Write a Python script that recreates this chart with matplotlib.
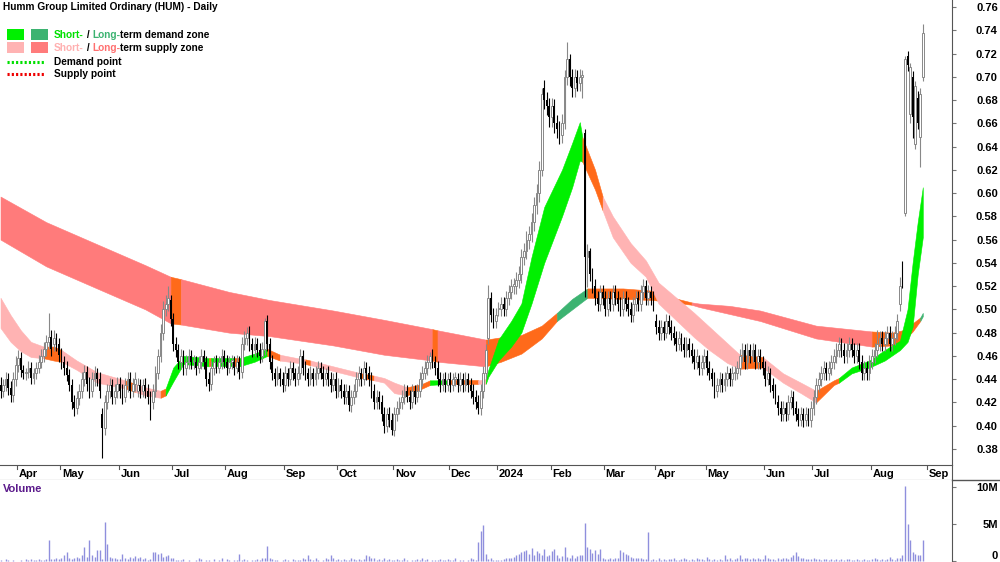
import matplotlib
matplotlib.use('Agg')
import matplotlib.pyplot as plt
from matplotlib.patches import Rectangle
from matplotlib.lines import Line2D
import numpy as np
import pandas as pd

plt.rcParams['font.family'] = ['Liberation Sans', 'DejaVu Sans']

title = "Humm Group Limited Ordinary (HUM) - Daily"
first_day = '2023-03-23'
# ASX closed on these days
holidays = ['2023-04-07', '2023-04-10', '2023-04-25', '2023-06-12', '2023-12-25',
            '2023-12-26', '2024-01-01', '2024-01-26', '2024-03-29', '2024-04-01',
            '2024-04-25', '2024-06-10']

# daily prices in thousandths of a dollar
opens = [
    435, 430, 435, 440, 432, 426, 440, 452, 458, 448,
    445, 446, 450, 441, 445, 450, 455, 460,
    466, 472, 476, 470, 475, 470, 461, 455, 450,
    444, 435, 420, 415, 424, 430, 440, 446, 436, 430,
    440, 445, 440, 410, 398, 420, 430, 435, 425, 430,
    436, 430, 425, 435, 440, 430, 436, 430, 435,
    430, 435, 430, 425, 420, 430, 445, 460, 480, 500,
    505, 508, 492, 470, 465, 455, 460, 450, 455, 460,
    455, 455, 450, 455, 460, 455, 440, 436, 450, 455,
    450, 455, 460, 455, 450, 455, 455, 450, 455, 446,
    470, 475, 480, 470, 465, 470, 465, 460, 466, 490,
    470, 455, 445, 440, 445, 440, 435, 445, 440, 450,
    445, 440, 445, 460, 450, 445, 440, 445, 440, 445,
    450, 445, 440, 445, 440, 435, 440, 430, 435, 430,
    425, 430, 418, 425, 430, 440, 445, 440, 450, 445,
    440, 430, 420, 425, 420, 410, 400, 410, 405, 396,
    410, 415, 420, 425, 430, 425, 420, 430, 425, 430,
    440, 445, 450, 455, 460, 455, 450, 440, 435, 440,
    435, 440, 435, 440, 440, 435, 440, 435, 440, 435,
    430, 425, 420, 415, 430, 445, 475, 510,
    495, 490, 500, 500, 505, 500, 510, 515, 520,
    520, 525, 530, 545, 550, 560, 565, 575, 590, 600,
    620, 690, 680, 675, 665, 675, 660, 655, 650,
    660, 700, 715, 700, 690, 700, 695, 700, 652, 545,
    550, 530, 520, 510, 505, 515, 510, 500, 510, 505,
    515, 510, 505, 500, 510, 505, 500, 495, 505, 510,
    505, 515, 520, 510, 515, 510, 490, 485,
    480, 485, 480, 490, 485, 480, 475, 470, 475, 470,
    465, 470, 465, 460, 455, 455, 450, 455, 460,
    450, 445, 440, 430, 435, 440, 435, 440, 445, 440,
    445, 445, 450, 460, 465, 455, 465, 460, 465, 455,
    460, 455, 450, 440, 445, 435, 430, 420, 415,
    410, 415, 410, 420, 425, 415, 410, 405, 410, 405,
    410, 405, 415, 425, 435, 440, 445, 450, 445, 450,
    455, 460, 465, 470, 465, 460, 465, 470, 465, 460,
    465, 455, 445, 450, 445, 455, 460, 465, 470, 475,
    470, 475, 480, 470, 475, 480, 505, 535, 583, 718,
    668, 700, 642, 682, 648, 700]
highs = [
    442, 440, 446, 445, 438, 446, 460, 465, 463, 452,
    450, 456, 455, 450, 455, 461, 466, 472,
    478, 497, 482, 482, 480, 475, 467, 460, 456,
    449, 440, 426, 430, 436, 446, 452, 451, 442, 446,
    451, 450, 446, 415, 426, 436, 441, 440, 436, 442,
    442, 436, 441, 446, 446, 441, 446, 441, 440,
    440, 441, 436, 430, 436, 451, 466, 487, 507, 512,
    520, 512, 497, 476, 470, 466, 465, 461, 466, 465,
    461, 460, 460, 466, 465, 460, 446, 456, 460, 461,
    460, 466, 465, 461, 460, 461, 460, 461, 460, 476,
    481, 485, 486, 475, 476, 475, 471, 472, 493, 495,
    475, 461, 450, 451, 450, 446, 451, 450, 456, 455,
    450, 451, 466, 465, 456, 450, 451, 450, 451, 456,
    455, 451, 450, 451, 446, 445, 446, 441, 440, 436,
    436, 435, 431, 436, 446, 451, 450, 456, 455, 451,
    446, 436, 431, 430, 426, 416, 415, 416, 411, 416,
    421, 425, 431, 436, 435, 431, 436, 435, 436, 446,
    451, 456, 461, 463, 466, 460, 456, 446, 445, 446,
    445, 446, 445, 446, 445, 446, 445, 446, 445, 441,
    436, 431, 426, 436, 451, 470, 521, 515,
    501, 501, 506, 511, 511, 516, 521, 526, 527,
    532, 537, 552, 557, 567, 572, 583, 597, 608, 628,
    690, 697, 687, 682, 682, 681, 667, 662, 668,
    706, 730, 720, 707, 707, 706, 707, 706, 655, 556,
    553, 536, 526, 516, 521, 521, 516, 516, 516, 521,
    521, 516, 511, 516, 516, 511, 506, 511, 516, 516,
    521, 526, 525, 521, 520, 516, 496, 491,
    491, 490, 496, 495, 491, 486, 481, 481, 480, 476,
    476, 475, 471, 466, 466, 461, 461, 466, 465,
    456, 450, 446, 441, 446, 445, 446, 451, 450, 451,
    451, 456, 466, 471, 470, 471, 470, 471, 470, 466,
    466, 460, 456, 451, 450, 441, 436, 426, 421,
    421, 420, 426, 431, 430, 421, 415, 416, 415, 416,
    415, 421, 431, 441, 446, 451, 456, 455, 456, 461,
    466, 471, 476, 475, 471, 471, 476, 475, 471, 471,
    471, 461, 456, 456, 461, 466, 471, 482, 481, 481,
    481, 486, 486, 481, 486, 496, 528, 542, 718, 722,
    712, 705, 696, 688, 690, 745]
lows = [
    424, 425, 430, 426, 420, 420, 434, 446, 442, 440,
    439, 441, 436, 436, 440, 445, 450, 455,
    460, 466, 460, 464, 464, 455, 449, 444, 438,
    430, 414, 408, 410, 418, 424, 434, 430, 424, 425,
    434, 434, 424, 372, 392, 414, 424, 419, 419, 424,
    424, 419, 420, 429, 424, 425, 430, 425, 424,
    425, 424, 419, 405, 414, 425, 440, 455, 474, 494,
    499, 486, 464, 459, 449, 449, 444, 444, 449, 449,
    449, 444, 445, 449, 449, 434, 430, 431, 444, 445,
    445, 449, 450, 444, 445, 449, 444, 445, 440, 441,
    465, 469, 464, 459, 460, 459, 454, 455, 461, 464,
    449, 439, 434, 435, 434, 429, 430, 434, 435, 439,
    434, 435, 440, 444, 439, 434, 435, 434, 435, 440,
    440, 434, 435, 434, 429, 430, 424, 425, 424, 419,
    419, 413, 412, 419, 425, 434, 434, 435, 439, 434,
    424, 414, 414, 414, 404, 394, 395, 399, 392, 391,
    404, 410, 414, 419, 420, 414, 415, 419, 420, 425,
    434, 440, 444, 449, 450, 444, 434, 429, 430, 429,
    430, 429, 430, 434, 429, 430, 429, 430, 429, 424,
    419, 414, 410, 409, 424, 440, 470, 489,
    484, 484, 494, 494, 494, 494, 504, 509, 513,
    513, 518, 523, 538, 543, 552, 558, 567, 582, 592,
    615, 672, 667, 657, 657, 652, 647, 642, 643,
    655, 693, 692, 683, 683, 688, 688, 682, 511, 519,
    524, 514, 504, 499, 499, 504, 494, 494, 499, 499,
    504, 499, 494, 494, 499, 494, 489, 489, 499, 499,
    499, 509, 504, 504, 504, 499, 479, 474,
    474, 474, 475, 479, 474, 469, 464, 465, 464, 459,
    459, 459, 454, 449, 449, 444, 444, 449, 444,
    439, 434, 424, 425, 429, 429, 430, 434, 434, 434,
    439, 440, 444, 455, 449, 449, 454, 455, 449, 449,
    449, 444, 434, 435, 429, 424, 419, 409, 404,
    404, 404, 405, 414, 409, 404, 400, 400, 399, 400,
    400, 399, 409, 419, 429, 434, 439, 439, 439, 444,
    449, 454, 459, 459, 454, 454, 459, 459, 454, 454,
    449, 439, 439, 439, 439, 449, 454, 459, 464, 464,
    464, 469, 464, 464, 469, 474, 499, 518, 580, 705,
    660, 647, 638, 655, 622, 696]
closes = [
    430, 435, 440, 432, 426, 440, 452, 458, 448, 445,
    445, 450, 441, 445, 450, 455, 460, 466,
    472, 476, 466, 475, 470, 461, 455, 450, 444,
    435, 420, 415, 424, 430, 440, 446, 436, 430, 440,
    445, 440, 430, 398, 420, 430, 435, 425, 430, 436,
    430, 425, 435, 440, 430, 436, 440, 435, 430,
    435, 430, 425, 420, 430, 445, 460, 480, 500, 505,
    510, 492, 470, 465, 455, 460, 450, 455, 460, 455,
    455, 450, 455, 460, 455, 440, 436, 450, 455, 450,
    455, 460, 455, 450, 455, 455, 450, 455, 446, 470,
    475, 480, 470, 465, 470, 465, 460, 466, 490, 470,
    455, 445, 440, 445, 440, 435, 445, 440, 450, 445,
    440, 445, 460, 450, 445, 440, 445, 440, 445, 450,
    445, 440, 445, 440, 435, 440, 430, 435, 430, 425,
    430, 418, 425, 430, 440, 445, 440, 450, 445, 440,
    430, 420, 425, 420, 410, 400, 410, 405, 396, 410,
    415, 420, 425, 430, 425, 420, 430, 425, 430, 440,
    445, 450, 455, 460, 455, 450, 440, 435, 440, 435,
    440, 435, 440, 440, 435, 440, 435, 440, 435, 430,
    425, 420, 415, 430, 445, 465, 510, 495,
    490, 495, 500, 505, 500, 510, 515, 520, 520,
    525, 530, 545, 550, 560, 565, 575, 590, 600, 620,
    685, 680, 675, 665, 675, 660, 655, 650, 660,
    700, 715, 700, 690, 700, 695, 700, 700, 545, 550,
    530, 520, 510, 505, 515, 510, 500, 510, 505, 515,
    510, 505, 500, 510, 505, 500, 495, 505, 510, 505,
    515, 520, 510, 515, 510, 505, 485, 480,
    485, 480, 490, 485, 480, 475, 470, 475, 470, 465,
    470, 465, 460, 455, 460, 450, 455, 460, 450,
    445, 440, 430, 435, 440, 435, 440, 445, 440, 445,
    445, 450, 460, 465, 455, 465, 460, 465, 455, 460,
    455, 450, 440, 445, 435, 430, 425, 415, 410,
    415, 410, 420, 425, 415, 410, 405, 410, 405, 410,
    405, 415, 425, 435, 440, 445, 450, 445, 450, 455,
    460, 465, 470, 465, 460, 465, 470, 465, 460, 465,
    455, 445, 450, 445, 455, 460, 465, 470, 475, 470,
    475, 480, 470, 475, 480, 490, 520, 525, 715, 710,
    708, 665, 692, 660, 685, 738]

# volume in units of 100k shares
volume = [
    2, 1, 3, 2, 1, 2, 1, 1, 2, 1, 3, 2, 3, 2, 2, 3, 2, 2,
    3, 28, 3, 3, 4, 3, 5, 8, 12, 4, 3, 5, 6, 4, 9, 19, 6, 29, 8,
    6, 15, 15, 3, 53, 23, 6, 4, 5, 3, 3, 10, 4, 3, 6, 5, 7, 5, 6,
    3, 4, 2, 3, 13, 12, 10, 11, 6, 7,
    9, 5, 4, 2, 2, 2, 3, 1, 2, 1,
    1, 2, 4, 3, 1, 2, 2, 1, 3, 1, 2, 4, 1, 3, 2, 1, 2, 2, 10, 2,
    3, 2, 1, 2, 2, 3, 2, 4, 5, 21, 4, 3, 2, 2, 1, 2, 3, 2, 1, 3,
    2, 2, 2, 4, 3, 8, 3, 2, 4, 2, 1, 2, 5, 3, 9, 4, 2, 3, 2, 3,
    2, 2, 4, 3, 2, 3, 2, 3, 9, 7, 5, 4, 2, 3, 2, 4, 2, 3, 2, 2,
    3, 2, 2, 4, 2, 1, 2, 2, 3, 2, 4, 2, 3, 1, 2, 2, 2, 3, 2, 2,
    3, 2, 2, 4, 1, 2, 2, 1, 2, 4, 3, 2, 26, 41, 49, 10, 3, 4,
    2, 2, 2, 2, 3, 4, 5, 4, 6, 8, 10, 12, 14, 15, 10, 18, 8, 14, 11,
    9, 16, 7, 9, 14, 17, 9, 5, 7, 19, 6, 4, 9, 5, 7, 9, 8, 51, 19,
    16, 11, 15, 10, 16, 4, 3, 3, 4, 3, 4, 5, 15, 12, 10, 8, 6, 4, 5, 5,
    4, 3, 3, 40, 2, 3, 2, 4, 2, 3, 2, 3, 3, 4, 2, 2, 3, 4,
    3, 2, 3, 2, 4, 3, 3, 2, 6, 3, 2, 3, 2, 3, 2, 8, 3, 4, 2,
    3, 4, 9, 3, 5, 4, 3, 4, 3, 4, 3, 3, 8, 4, 3, 3, 2, 4, 3,
    4, 5, 3, 6, 8, 12, 7, 5, 4, 3, 3, 3, 4, 3, 3, 2, 3, 3, 2, 3,
    2, 3, 2, 3, 2, 3, 3, 2, 2, 3, 2, 2, 3, 2, 2, 3, 4, 3, 2, 3,
    2, 3, 6, 3, 2, 4, 5, 8, 101, 50, 28, 12, 10, 8, 8, 29]

# short-term zone: knot (trading day), upper edge, lower edge, kind of each stretch
# (S supply, D demand, O orange / contested)
st_day = [0, 4, 8, 12, 17, 21, 24, 30, 38, 49, 53, 57, 63, 65, 68, 72, 82, 83,
          92, 94, 100, 105, 110, 117, 120, 122, 131, 142, 147, 151, 155, 160,
          166, 169, 176, 188, 191, 192, 196, 201, 205, 209, 214, 221, 225, 228,
          229, 234, 237, 241, 248, 254, 259, 273, 279, 286, 291, 300, 308, 315,
          321, 328, 330, 335, 342, 348, 354, 357, 359, 361, 363]
st_top = [.510, .495, .482, .472, .468, .468, .465, .456, .446, .439, .436, .433,
          .430, .432, .450, .460, .458, .458, .458, .458, .462, .466, .461, .458,
          .457, .456, .451, .445, .443, .441, .437, .433, .436, .439, .439, .439,
          .440, .448, .474, .490, .505, .545, .588, .620, .643, .661, .648, .620,
          .597, .580, .557, .542, .523, .497, .485, .471, .461, .459, .445, .437,
          .430, .439, .441, .450, .456, .465, .473, .500, .540, .575, .605]
st_bot = [.484, .472, .464, .459, .458, .456, .455, .448, .437, .432, .429, .426,
          .424, .426, .438, .453, .451, .451, .451, .451, .455, .460, .456, .454,
          .453, .452, .447, .441, .439, .437, .428, .426, .432, .435, .436, .436,
          .436, .442, .456, .468, .480, .505, .540, .580, .605, .628, .627, .603,
          .585, .562, .540, .528, .505, .476, .465, .454, .449, .450, .437, .428,
          .420, .435, .437, .445, .450, .456, .465, .472, .485, .530, .562]
st_kind = "SSSSOOSSSOSSODDDODODDOSSOSSOSSSOODOSDDDDDDDDDDOOSSSSSSSSOSSSOODDDDDDDD"

# long-term zone
lt_day = [0, 18, 38, 57, 67, 71, 90, 106, 131, 151, 170, 172, 191, 197, 205,
          213, 219, 225, 231, 245, 257, 261, 272, 275, 287, 299, 321, 343, 351,
          355, 359, 362, 363]
lt_top = [.597, .575, .556, .538, .528, .526, .515, .508, .499, .491, .483, .482,
          .474, .476, .478, .486, .497, .509, .518, .518, .516, .512, .506, .505,
          .503, .499, .486, .481, .480, .482, .488, .493, .497]
lt_bot = [.560, .537, .518, .500, .488, .487, .480, .477, .469, .461, .456, .455,
          .451, .455, .462, .475, .490, .500, .510, .509, .508, .507, .504, .502,
          .496, .490, .475, .468, .469, .472, .481, .490, .494]
lt_kind = "SSSSOSSSSSOSOOOODDOOOOSSSSSOOOOD"

short_cols = {'S': '#ffb3b3', 'D': '#00f000', 'O': '#ff6a1a'}
long_cols = {'S': '#ff7b7b', 'D': '#3cb371', 'O': '#ff6a1a'}

o = np.array(opens) / 1000
h = np.array(highs) / 1000
l = np.array(lows) / 1000
c = np.array(closes) / 1000
vol = np.array(volume) * 1e5
n = len(c)
x = np.arange(n)

fig = plt.figure(figsize=(10, 5.62), dpi=100)
ax = fig.add_axes([0, 97 / 562, 0.952, 465 / 562])
axd = fig.add_axes([0, 82 / 562, 0.952, 15 / 562], sharex=ax)
axv = fig.add_axes([0, 0, 0.952, 82 / 562], sharex=ax)


def draw_zone(days, top, bot, kinds, cols, z):
    start = 0
    for k in range(1, len(kinds) + 1):
        if k == len(kinds) or kinds[k] != kinds[start]:
            col = cols[kinds[start]]
            ax.fill_between(days[start:k + 1], top[start:k + 1], bot[start:k + 1],
                            facecolor=col, edgecolor=col, lw=0.4, zorder=z)
            start = k


draw_zone(lt_day, lt_top, lt_bot, lt_kind, long_cols, 1)
draw_zone(st_day, st_top, st_bot, st_kind, short_cols, 2)

# candles
up = c >= o
grey = '#888888'
ax.vlines(x[up], l[up], h[up], color=grey, lw=0.8, zorder=3)
ax.vlines(x[~up], l[~up], h[~up], color='black', lw=0.8, zorder=3)
lo = np.minimum(o, c)
hgt = np.maximum(np.abs(c - o), 0.0015)
ax.bar(x[up], hgt[up], bottom=lo[up], width=0.7, facecolor='white',
       edgecolor=grey, lw=0.7, zorder=4)
ax.bar(x[~up], hgt[~up], bottom=lo[~up], width=0.7, color='black', lw=0, zorder=4)

ax.set_xlim(-0.2, 374.5)
ax.set_ylim(0.3662, 0.766)
ax.set_xticks([])
ax.yaxis.tick_right()
yt = np.arange(0.38, 0.7601, 0.02)
ax.set_yticks(yt, ['%.2f' % v for v in yt])
ax.tick_params(axis='y', length=3, color='#777777', pad=30, labelsize=8)
for t in ax.get_yticklabels():
    t.set_ha('right')
    t.set_fontweight('bold')
for s in ['left', 'top', 'bottom']:
    ax.spines[s].set_visible(False)
ax.spines['right'].set_color('#555555')

# date strip
axd.set_ylim(0, 1)
axd.set_yticks([])
axd.tick_params(bottom=False, labelbottom=False)
axd.spines['left'].set_visible(False)
for s in ['top', 'bottom', 'right']:
    axd.spines[s].set_color('#555555')
all_days = pd.bdate_range(first_day, '2024-09-30', freq='C', holidays=holidays)
for i in range(1, 375):
    d = all_days[i]
    if d.month != all_days[i - 1].month:
        lab = str(d.year) if d.month == 1 else d.strftime('%b')
        axd.plot([i - 0.5, i - 0.5], [0.75, 1], color='#555555', lw=0.8)
        axd.text(i + 0.2, 0.42, lab, fontsize=8, fontweight='bold',
                 ha='left', va='center')
fig.add_artist(Line2D([0.952, 1.0], [82 / 562, 82 / 562], color='#555555',
                      lw=1, transform=fig.transFigure))

# volume
axv.vlines(x, 0, vol, color='#8f8fdd', lw=1)
axv.set_ylim(-0.1e6, 10.95e6)
axv.yaxis.tick_right()
axv.set_yticks([0, 5e6, 10e6], ['0', '5M', '10M'])
axv.tick_params(axis='y', length=3, color='#777777', pad=30, labelsize=8)
for t in axv.get_yticklabels():
    t.set_ha('right')
    t.set_fontweight('bold')
axv.get_yticklabels()[0].set_va('bottom')
for s in ['left', 'top', 'bottom']:
    axv.spines[s].set_visible(False)
axv.spines['right'].set_color('#555555')
axv.text(3 / 952, 0.89, 'Volume', transform=axv.transAxes, color='#5b1a8b',
         fontsize=8, fontweight='bold', va='center')

# title and legend
fig.text(3 / 1000, 1 - 7 / 562, title, fontsize=7.3, fontweight='bold', va='center')

renderer = fig.canvas.get_renderer()


def rich(x_px, y_px, parts):
    for s, col in parts:
        t = fig.text(x_px / 1000, 1 - y_px / 562, s, color=col, fontsize=7.3,
                     fontweight='bold', va='center')
        x_px += t.get_window_extent(renderer).width


def square(x_px, y_px, col):
    fig.add_artist(Rectangle((x_px / 1000, 1 - (y_px + 11) / 562), 17 / 1000, 11 / 562,
                             transform=fig.transFigure, color=col, lw=0))


square(7, 29, short_cols['D'])
square(31, 29, long_cols['D'])
square(7, 42, short_cols['S'])
square(31, 42, long_cols['S'])
rich(54, 35, [('Short-', '#00e000'), (' / ', 'black'), ('Long-', long_cols['D']),
              ('term demand zone', 'black')])
rich(54, 48, [('Short-', '#ffb0b0'), (' / ', 'black'), ('Long-', '#ff7070'),
              ('term supply zone', 'black')])
for yy, col, lab in [(62, '#00e000', 'Demand point'), (74, '#ee0000', 'Supply point')]:
    fig.add_artist(Line2D([7 / 1000, 45 / 1000], [1 - yy / 562] * 2, color=col, lw=2.2,
                          linestyle=(0, (0.7, 0.7)), transform=fig.transFigure))
    fig.text(54 / 1000, 1 - yy / 562, lab, fontsize=7.3, fontweight='bold', va='center')

fig.savefig('out.png', dpi=100)
